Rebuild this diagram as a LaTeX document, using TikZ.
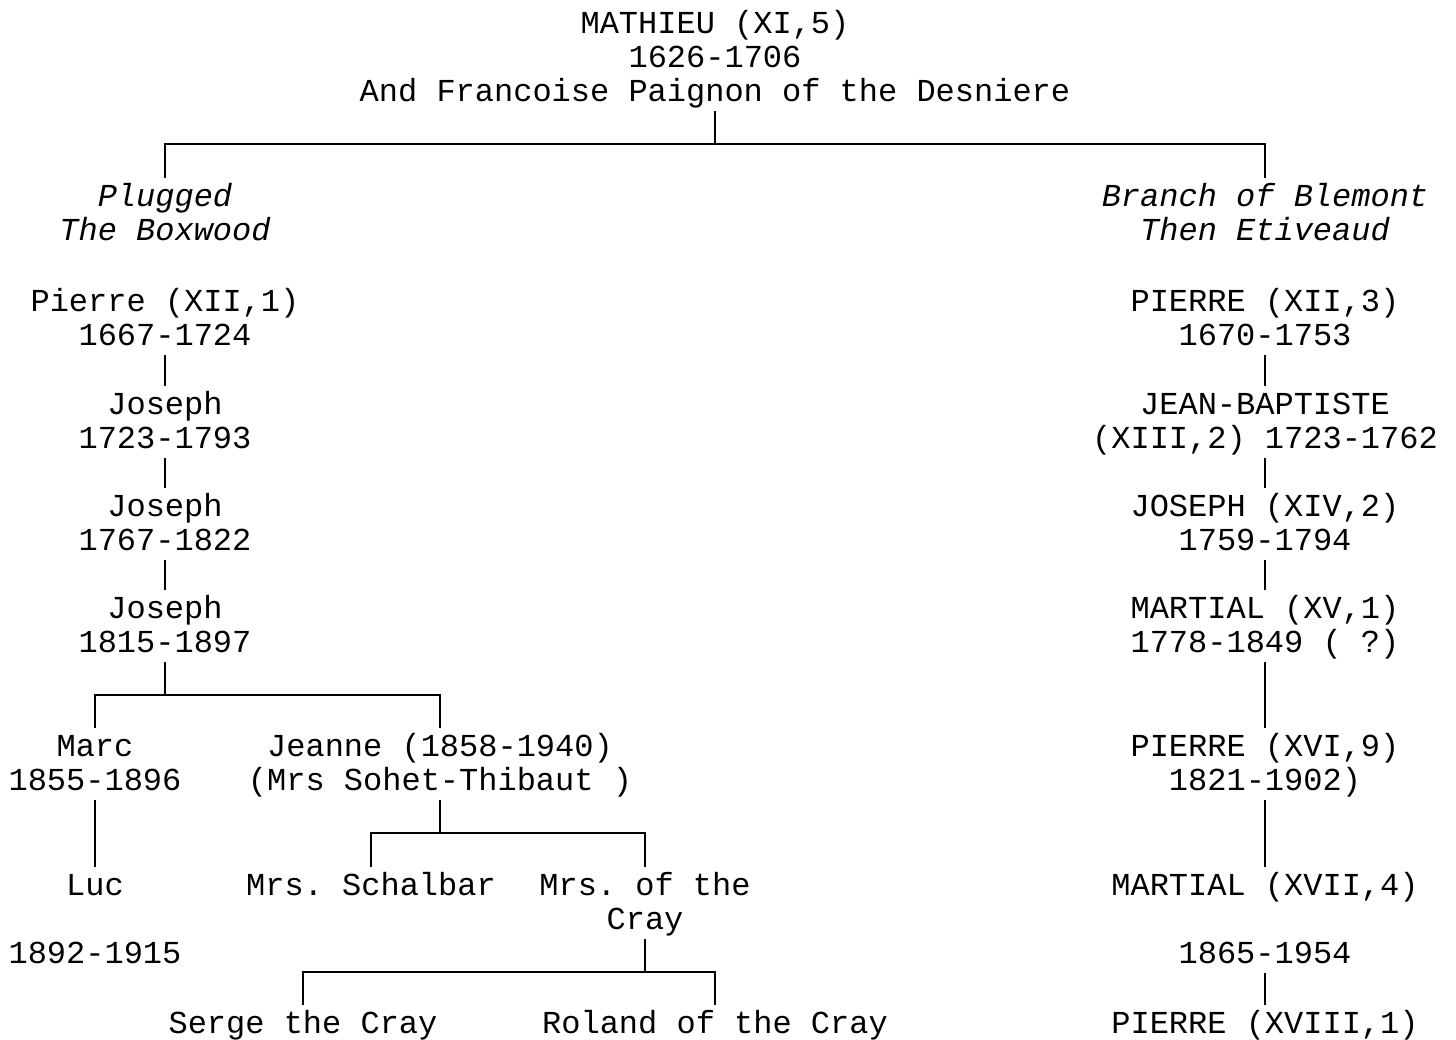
\documentclass[tikz,border=0pt]{standalone}
\usepackage{fontspec}
\setmonofont{Liberation Mono}
% every text row is exactly one baseline step tall: 26pt above, 8pt below
\newcommand\mystrut{\rule[-8pt]{0pt}{34pt}}
\begin{document}
\begin{tikzpicture}[x=1pt,y=-1pt,
  person/.style={anchor=north,inner xsep=0pt,inner ysep=2pt,align=center,
    font=\ttfamily\frenchspacing\fontsize{32}{34}\selectfont},
  branchname/.style={person,font=\ttfamily\itshape\fontsize{32}{34}\selectfont},
  link/.style={line width=1.8pt}]
\fill[white] (0,0) rectangle (1456,1039);
\useasboundingbox (0,0) rectangle (1456,1039);

% bar levels of the forks
\coordinate (bar0) at (0,144);
\coordinate (bar1) at (0,695);
\coordinate (bar2) at (0,833);
\coordinate (bar3) at (0,972);

% founder
\node[person] (root) at (715,5) {\mystrut MATHIEU (XI,5)\\\mystrut 1626-1706\\\mystrut And Francoise Paignon of the Desniere};

% the two branches
\node[branchname] (plug) at (165,178) {\mystrut Plugged\\\mystrut The Boxwood};
\node[branchname] (blem) at (1265,178) {\mystrut Branch of Blemont\\\mystrut Then Etiveaud};

% left line
\node[person] (l1) at (165,283) {\mystrut Pierre (XII,1)\\\mystrut 1667-1724};
\node[person] (l2) at (165,386) {\mystrut Joseph\\\mystrut 1723-1793};
\node[person] (l3) at (165,488) {\mystrut Joseph\\\mystrut 1767-1822};
\node[person] (l4) at (165,590) {\mystrut Joseph\\\mystrut 1815-1897};
\node[person] (marc) at (95,728) {\mystrut Marc\\\mystrut 1855-1896};
\node[person] (jeanne) at (440,728) {\mystrut Jeanne (1858-1940)\\\mystrut (Mrs Sohet-Thibaut )};
\node[person] (luc) at (95,867) {\mystrut Luc\\\mystrut\\\mystrut 1892-1915};
\node[person] (schal) at (371,867) {\mystrut Mrs. Schalbar};
\node[person] (cray) at (645,867) {\mystrut Mrs. of the\\\mystrut Cray};
\node[person] (serge) at (303,1005) {\mystrut Serge the Cray};
\node[person] (roland) at (715,1005) {\mystrut Roland of the Cray};

% right line
\node[person] (r1) at (1265,283) {\mystrut PIERRE (XII,3)\\\mystrut 1670-1753};
\node[person] (r2) at (1265,386) {\mystrut JEAN-BAPTISTE\\\mystrut (XIII,2) 1723-1762};
\node[person] (r3) at (1265,488) {\mystrut JOSEPH (XIV,2)\\\mystrut 1759-1794};
\node[person] (r4) at (1265,590) {\mystrut MARTIAL (XV,1)\\\mystrut 1778-1849 ( ?)};
\node[person] (r5) at (1265,728) {\mystrut PIERRE (XVI,9)\\\mystrut 1821-1902)};
\node[person] (r6) at (1265,867) {\mystrut MARTIAL (XVII,4)\\\mystrut\\\mystrut 1865-1954};
\node[person] (r7) at (1265,1005) {\mystrut PIERRE (XVIII,1)};

% forks
\draw[link] (root.south) -- (root.south |- bar0) -| (plug.north);
\draw[link] (root.south |- bar0) -| (blem.north);
\draw[link] (l4.south) -- (l4.south |- bar1) -| (marc.north);
\draw[link] (l4.south |- bar1) -| (jeanne.north);
\draw[link] (jeanne.south) -- (jeanne.south |- bar2) -| (schal.north);
\draw[link] (jeanne.south |- bar2) -| (cray.north);
\draw[link] (cray.south) -- (cray.south |- bar3) -| (serge.north);
\draw[link] (cray.south |- bar3) -| (roland.north);

% single descents
\draw[link] (l1) -- (l2) (l2) -- (l3) (l3) -- (l4) (marc) -- (luc);
\draw[link] (r1) -- (r2) (r2) -- (r3) (r3) -- (r4) (r4) -- (r5) (r5) -- (r6) (r6) -- (r7);
\end{tikzpicture}
\end{document}
